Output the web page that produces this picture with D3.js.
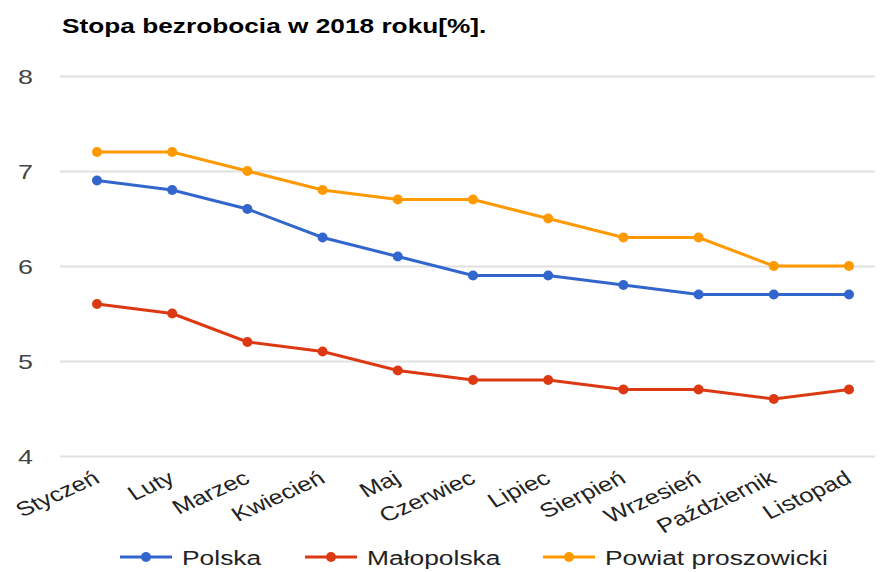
<!DOCTYPE html>
<html><head><meta charset="utf-8">
<script src="https://cdn.jsdelivr.net/npm/d3@7"></script>
<style>body{margin:0;background:#fff}svg{display:block}</style>
</head><body><svg id="c" width="880" height="572"></svg>
<script>
const months = ["Styczeń","Luty","Marzec","Kwiecień","Maj","Czerwiec","Lipiec","Sierpień","Wrzesień","Październik","Listopad"];
const polska = [6.9,6.8,6.6,6.3,6.1,5.9,5.9,5.8,5.7,5.7,5.7];
const malopolska = [5.6,5.5,5.2,5.1,4.9,4.8,4.8,4.7,4.7,4.6,4.7];
const powiat = [7.2,7.2,7.0,6.8,6.7,6.7,6.5,6.3,6.3,6.0,6.0];
const yTicks = [4,5,6,7,8];
const seriesNames = ["Polska","Małopolska","Powiat proszowicki"];
const colors = ["#3366cc","#dc3912","#ff9900"];

const svg = d3.select("#c");
const font = "Arial, 'Liberation Sans', sans-serif";
const SX = 1.28;
const x = d3.scalePoint().domain(months).range([97, 849]);
const y = d3.scaleLinear().domain([4,8]).range([456, 76]);

svg.append("text").attr("transform","translate(62,33) scale(1.25,1)").attr("font-family",font)
  .attr("font-weight","bold").attr("font-size",21).attr("fill","#000")
  .text("Stopa bezrobocia w 2018 roku[%].");

const yAxis = svg.append("g").attr("transform","translate(60,0)")
  .call(d3.axisLeft(y).tickValues(yTicks).tickSize(-815).tickFormat(d3.format("d")));
yAxis.select(".domain").remove();
yAxis.selectAll("line").attr("stroke","#e0e0e0").attr("stroke-width",2);
yAxis.selectAll("text").attr("font-family",font).attr("font-size",21).attr("fill","#444")
  .attr("x",0).attr("dy","0.36em").attr("text-anchor","end")
  .attr("transform",`translate(-27,0) scale(${SX},1)`);

const xAxis = svg.append("g").attr("transform","translate(0,0)")
  .call(d3.axisBottom(x).tickSize(0).tickPadding(0));
xAxis.select(".domain").remove();
xAxis.selectAll(".tick").attr("transform",null);
xAxis.selectAll(".tick text").attr("font-family",font).attr("font-size",20).attr("fill","#222")
  .attr("text-anchor","end").attr("x",0).attr("y",0).attr("dy",null)
  .attr("transform",d=>`translate(${x(d)+4},482) scale(${SX},1) rotate(-30)`);

const data = [polska, malopolska, powiat];
const line = d3.line().x((d,i)=>x(months[i])).y(d=>y(d));
data.forEach((s,k)=>{
  svg.append("path").datum(s).attr("d",line).attr("fill","none")
    .attr("stroke",colors[k]).attr("stroke-width",3);
  svg.append("g").selectAll("circle").data(s).join("circle")
    .attr("cx",(d,i)=>x(months[i])).attr("cy",d=>y(d)).attr("r",5).attr("fill",colors[k]);
});

const legX = [120, 305, 543];
const lg = svg.append("g");
seriesNames.forEach((n,k)=>{
  const g = lg.append("g").attr("transform",`translate(${legX[k]},557)`);
  g.append("line").attr("x1",0).attr("x2",52).attr("stroke",colors[k]).attr("stroke-width",3);
  g.append("circle").attr("cx",26).attr("r",5).attr("fill",colors[k]);
  g.append("text").attr("transform","translate(62,8) scale(1.32,1)").attr("font-family",font).attr("font-size",20)
    .attr("fill","#222").text(n);
});
</script></body></html>
